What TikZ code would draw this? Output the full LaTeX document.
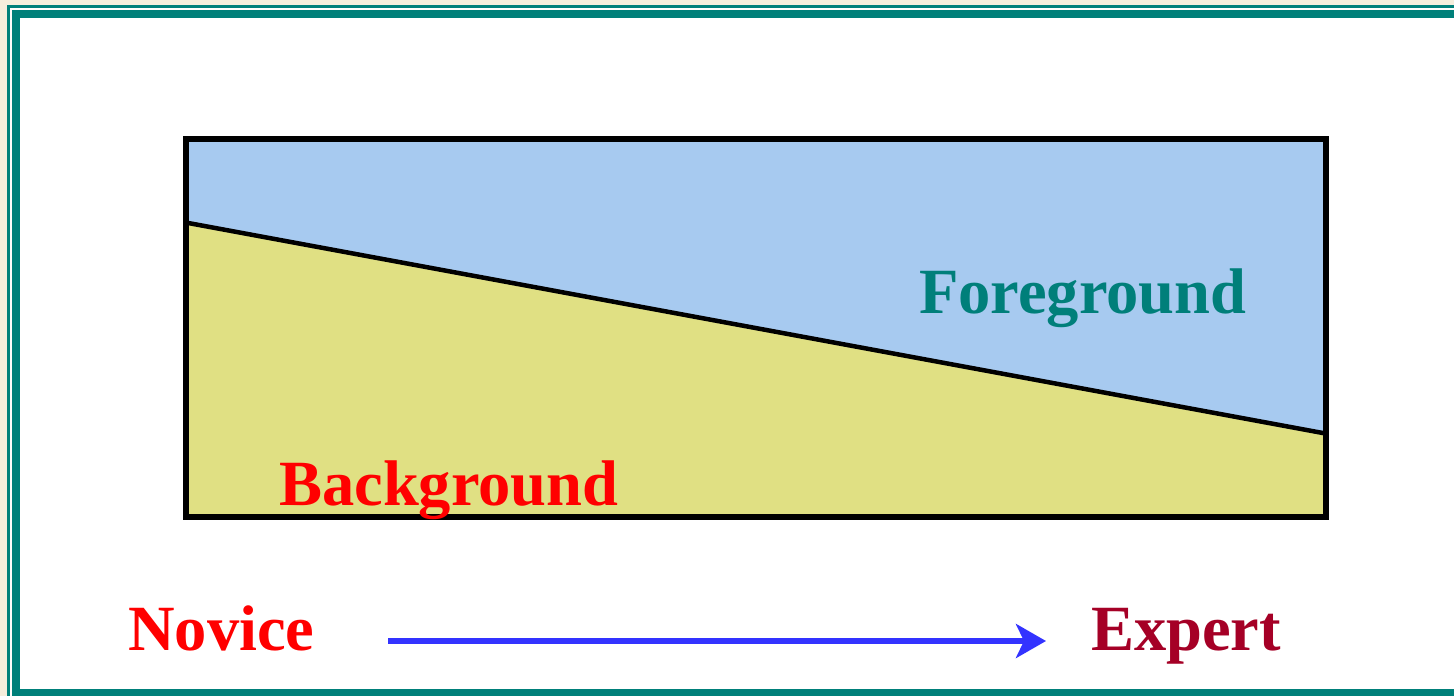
\documentclass[tikz,border=0pt]{standalone}
\usepackage{fontspec}
\setmainfont{Liberation Serif}
\usetikzlibrary{arrows.meta}
\definecolor{beige}{HTML}{F5EEDC}
\definecolor{teal1}{HTML}{00807A}
\definecolor{skyb}{HTML}{A7CAF0}
\definecolor{sand}{HTML}{E0E083}
\definecolor{fgtext}{HTML}{007F7A}
\definecolor{novred}{HTML}{FF0000}
\definecolor{expred}{HTML}{A50026}
\definecolor{arrblue}{HTML}{3333FF}
\tikzset{
  lbl/.style={font=\fontsize{64.5}{70}\selectfont\bfseries, inner sep=0pt, anchor=base west},
}
\begin{document}
\begin{tikzpicture}[x=1pt,y=-1pt]
\useasboundingbox (0,0) rectangle (1454,696);
% page background and frame
\fill[beige] (0,0) rectangle (1454,696);
\fill[teal1] (7,5) rectangle (1454,696);
\fill[white!90!beige] (10,8) rectangle (1454,696);
\fill[teal1] (12,10) rectangle (1454,696);
\fill[white] (20,18) rectangle (1454,689);
% panel
\coordinate (tl) at (185.5,139);
\coordinate (tr) at (1325.5,139);
\coordinate (br) at (1325.5,516.5);
\coordinate (bl) at (185.5,516.5);
\coordinate (dl) at (185.5,222.5);
\coordinate (dr) at (1325.5,433.5);
\fill[skyb] (tl) -- (tr) -- (dr) -- (dl) -- cycle;
\fill[sand] (dl) -- (dr) -- (br) -- (bl) -- cycle;
\draw[line width=4.5pt] (dl) -- (dr);
\draw[line width=6pt] (tl) rectangle (br);
% labels
\node[lbl, text=fgtext] (fg) at (919,313) {Foreground};
\node[lbl, text=novred] (bg) at (279,505) {Background};
\node[lbl, text=novred] (nov) at (128,650) {Novice};
\node[lbl, text=expred] (exp) at (1091,650) {Expert};
\coordinate (as) at (388,641);
\coordinate (ae) at (1046,641);
\draw[arrblue, line width=6pt, -{Stealth[length=30pt,width=34pt,inset=8pt]}] (as) -- (ae);
\end{tikzpicture}
\end{document}
